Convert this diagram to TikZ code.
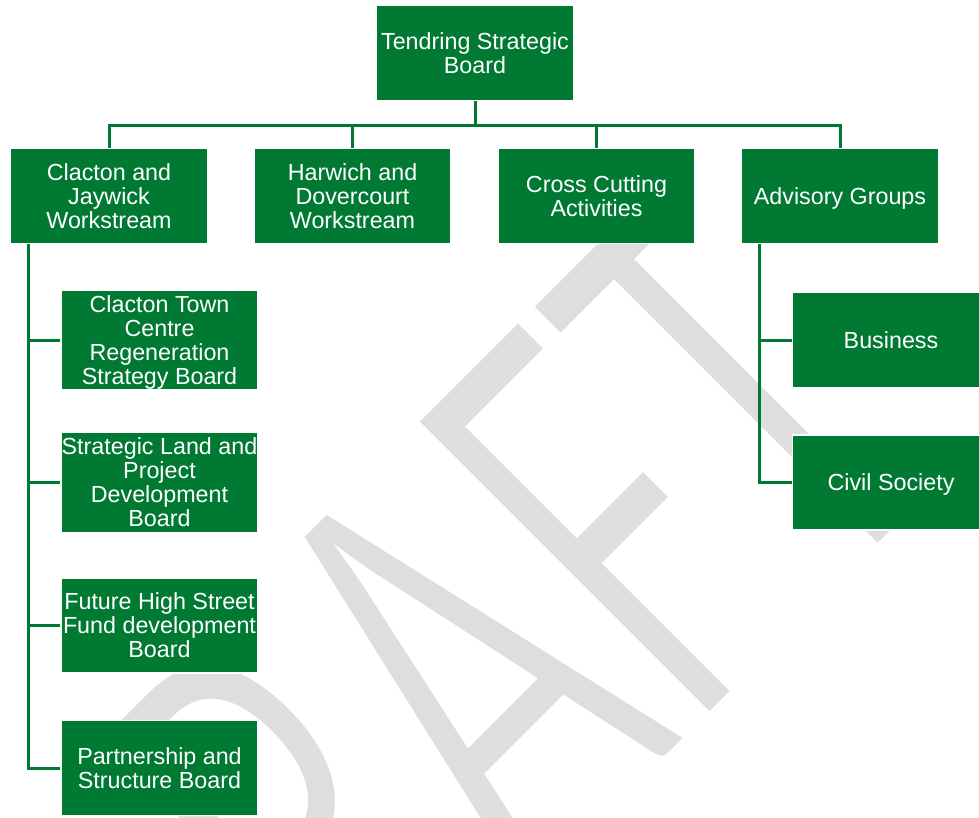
\documentclass[tikz,border=0pt]{standalone}
\usepackage{fontspec}
\setmainfont{Liberation Sans}
\newfontfamily\wmfont{Carlito}
\definecolor{tdgreen}{RGB}{0,122,51}
\definecolor{tdgrey}{RGB}{222,222,222}
% line box of the board text: caps sit in the middle of the box
\newcommand{\boardtext}[1]{\rule{0pt}{21pt}#1\rule[-5pt]{0pt}{5pt}}
% thinner watermark letters: white outline over the grey fill
\newcommand{\thinletters}[1]{\special{pdf:literal direct 2 Tr 1 1 1 RG 12 w}#1\special{pdf:literal direct 0 Tr}}

\begin{document}
\begin{tikzpicture}[x=1pt, y=-1pt,
        every node/.style={font=\fontsize{23.3}{24}\selectfont},
        board/.style={draw=white, line width=1.5pt, fill=tdgreen, text=white,
            minimum width=197pt, minimum height=95pt, align=center,
            inner xsep=0pt, inner ysep=1pt},
        link/.style={tdgreen, line width=3pt}]
    \useasboundingbox (0,0) rectangle (979,817);
    \clip (0,0) rectangle (979,817);

    % Draft watermark
    \node[tdgrey, anchor=base west, inner sep=0, rotate=45, xscale=0.613,
        font=\wmfont\fontsize{657}{657}\selectfont] (draft) at (197,1232) {\thinletters{DRAFT}};

    % Strategic board
    \node[board] (tsb) at (475,53) {\boardtext{Tendring Strategic\\Board}};

    % Workstreams
    \node[board] (cjw) at (109,196) {\boardtext{Clacton and\\Jaywick\\Workstream}};
    \node[board] (hdw) at (352.5,196) {\boardtext{Harwich and\\Dovercourt\\Workstream}};
    \node[board] (cca) at (596.5,196) {\boardtext{Cross Cutting\\Activities}};
    \node[board] (adv) at (840,196) {\boardtext{Advisory Groups}};

    % Clacton boards
    \node[board] (ctc) at (159.5,340) {\boardtext{Clacton Town\\Centre\\Regeneration\\Strategy Board}};
    \node[board] (sld) at (159.5,482.5) {\boardtext{Strategic Land and\\Project\\Development\\Board}};
    \node[board] (fhs) at (159.5,625.5) {\boardtext{Future High Street\\Fund development\\Board}};
    \node[board] (psb) at (159.5,768) {\boardtext{Partnership and\\Structure Board}};

    % Advisory groups
    \node[board] (bus) at (891,340) {\boardtext{Business}};
    \node[board] (civ) at (891,482.5) {\boardtext{Civil Society}};

    % Links
    \foreach \w in {cjw,hdw,cca,adv}
        \draw[link] (tsb.south) -- ++(0,24) -| (\w.north);
    \foreach \c in {ctc,sld,fhs,psb}
        \draw[link] ([xshift=19pt]cjw.south west) |- (\c.west);
    \foreach \c in {bus,civ}
        \draw[link] ([xshift=19pt]adv.south west) |- (\c.west);
\end{tikzpicture}
\end{document}
